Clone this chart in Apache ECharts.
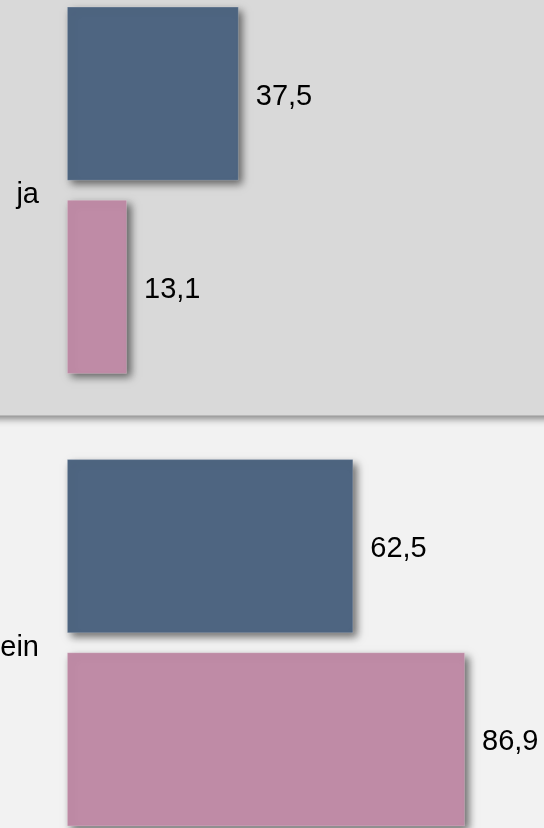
<!DOCTYPE html>
<html>
<head>
<meta charset="utf-8">
<script src="https://cdn.jsdelivr.net/npm/echarts@6/dist/echarts.min.js"></script>
<style>
html,body{margin:0;padding:0;background:#f2f2f2;}
#c{width:544px;height:828px;}
</style>
</head>
<body>
<div id="c"></div>
<script>
var categories = ['ja', 'nein'];
var seriesNames = ['Gruppe 1', 'Gruppe 2'];
var valuesA = [37.5, 62.5];
var valuesB = [13.1, 86.9];

var chart = echarts.init(document.getElementById('c'));
var font = 'Liberation Sans, Arial, sans-serif';
var shadow = {shadowBlur: 8, shadowColor: 'rgba(0,0,0,0.55)', shadowOffsetX: 4, shadowOffsetY: 4,
              borderColor: 'rgba(255,255,255,0.25)', borderWidth: 0.8};
function lbl() {
  return {
    show: true, position: 'right', distance: 17, offset: [0, 3],
    fontSize: 29, fontFamily: font, color: '#000',
    formatter: function (p) { return String(p.value).replace('.', ','); }
  };
}
var option = {
  animation: false,
  backgroundColor: '#f2f2f2',
  grid: {left: 67, right: 19, top: -36, height: 905, containLabel: false, outerBoundsMode: 'none'},
  xAxis: {type: 'value', min: 0, max: 100, show: false},
  yAxis: {
    type: 'category', data: categories, inverse: true,
    axisLine: {show: false}, axisTick: {show: false},
    axisLabel: {
      fontSize: 29, fontFamily: font, color: '#000', margin: 28,
      formatter: '{a|{value}}',
      rich: {a: {fontSize: 29, fontFamily: font, color: '#000', padding: [10, 0, 0, 0]}}
    },
    splitLine: {show: false}
  },
  series: [
    {name: seriesNames[0], type: 'bar', data: valuesA, barWidth: 174, barGap: '11%',
     itemStyle: Object.assign({color: '#4e6581'}, shadow), label: lbl()},
    {name: seriesNames[1], type: 'bar', data: valuesB, barWidth: 174, barGap: '11%',
     itemStyle: Object.assign({color: '#bf8ba6'}, shadow), label: lbl()}
  ]
};
chart.setOption(option);

// Background band behind the first category, derived from the axis scale
var y0 = chart.convertToPixel({yAxisIndex: 0}, categories[0]);
var y1 = chart.convertToPixel({yAxisIndex: 0}, categories[1]);
var boundary = (y0 + y1) / 2 - 1;
chart.setOption({
  graphic: [{
    type: 'rect', z: -10, silent: true,
    shape: {x: -20, y: -20, width: 600, height: boundary + 20},
    style: {fill: '#d9d9d9', shadowBlur: 7, shadowColor: 'rgba(0,0,0,0.45)', shadowOffsetY: 3}
  }]
});
</script>
</body>
</html>
